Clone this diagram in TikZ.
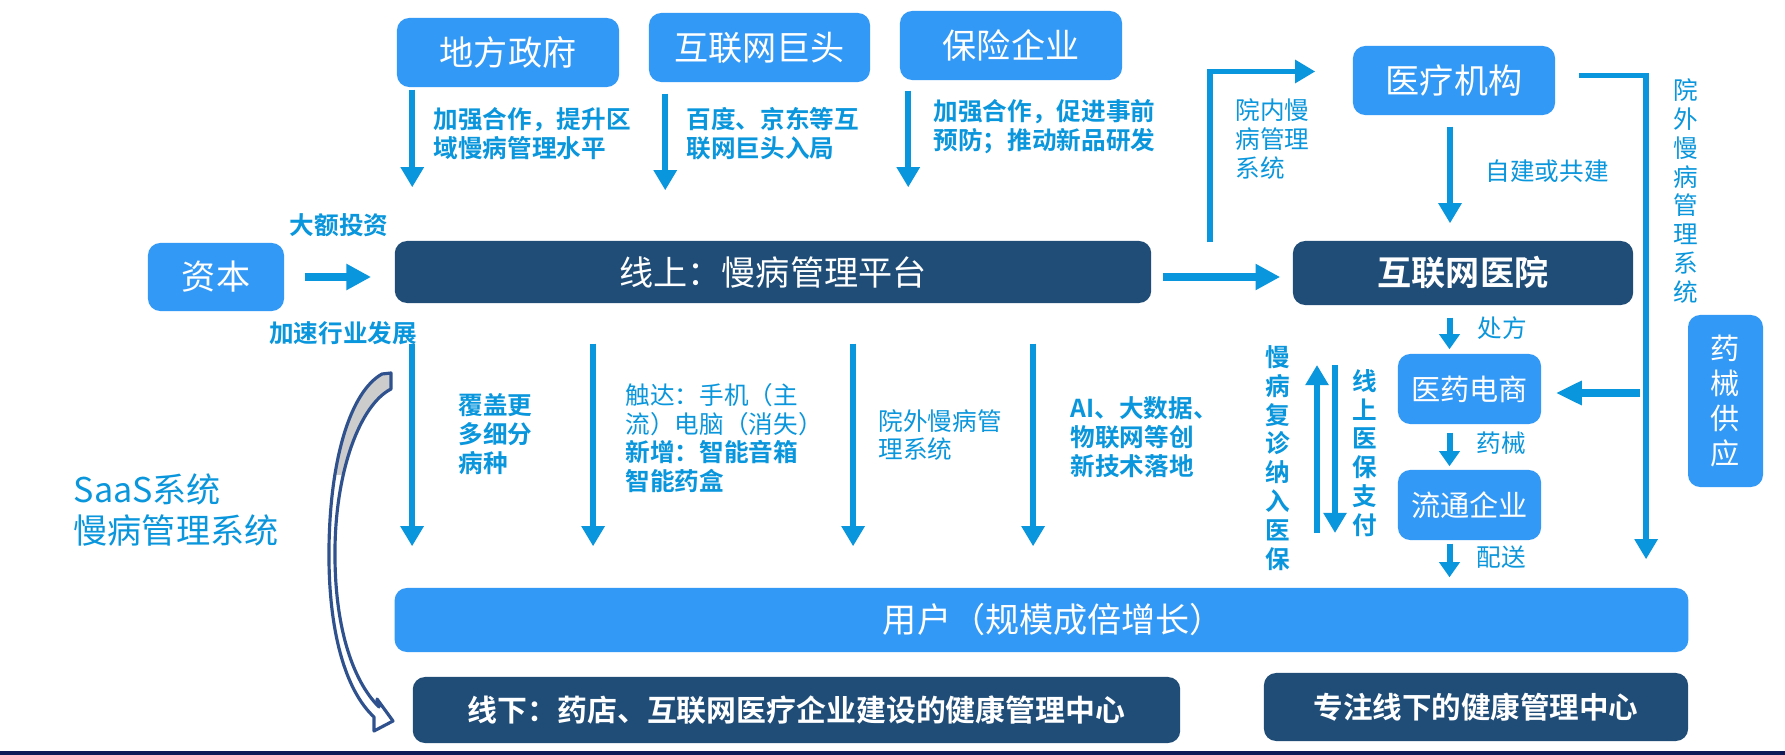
\documentclass[tikz,border=0pt]{standalone}
\usepackage{fontspec}
\setmainfont{Noto Sans CJK SC}[BoldFont={Noto Sans CJK SC Bold}]
\usetikzlibrary{arrows.meta,positioning,calc}
\definecolor{boxblue}{RGB}{51,153,247}
\definecolor{boxdark}{RGB}{31,77,120}
\definecolor{flowblue}{RGB}{10,150,220}
\definecolor{curvenavy}{RGB}{47,82,143}
\definecolor{barnavy}{RGB}{12,26,88}
\newcommand\saasbend{(382,374) -- (391,373) -- (391,389)
    .. controls (360,405) and (336,470) .. (335,548)
    .. controls (334,625) and (352,680) .. (379,707)
    -- (377,699) -- (393,721) -- (374,731) -- (374,717)
    .. controls (345,690) and (328,630) .. (329,548)
    .. controls (330,460) and (350,392) .. (382,374) -- cycle}

\begin{document}
\begin{tikzpicture}[x=0.01cm, y=-0.01cm,
    lightbox/.style={fill=boxblue, rounded corners=3.5pt, text=white, inner sep=0pt, font=\fontsize{9.7}{11}\selectfont},
    smallbox/.style={lightbox, font=\fontsize{8.3}{10}\selectfont},
    darkbox/.style={fill=boxdark, rounded corners=3.5pt, text=white, inner sep=0pt, font=\bfseries\fontsize{9.7}{11}\selectfont},
    note/.style={text=flowblue, inner sep=0pt, align=left, anchor=west, font=\fontsize{7}{8.2}\selectfont},
    boldnote/.style={note, font=\bfseries\fontsize{7}{8.2}\selectfont},
    vnote/.style={note, anchor=center, align=center},
    flow/.style={draw=flowblue, line width=1.7pt, -{Triangle[length=5.7pt,width=6.3pt]}},
    fatflow/.style={flow, line width=2.4pt, -{Triangle[length=7pt,width=7pt]}},
    shortflow/.style={flow, -{Triangle[length=4.3pt,width=5.7pt]}}
  ]
  \useasboundingbox (0,0) rectangle (1785,755);
  \fill[white] (0,0) rectangle (1785,755);

  % boxes
  \node[lightbox, minimum width=1.36cm, minimum height=0.68cm] (capital) at (216,277) {资本};
  \node[lightbox, minimum width=2.22cm, minimum height=0.69cm] (gov) at (508,52.5) {地方政府};
  \node[lightbox, minimum width=2.21cm, minimum height=0.69cm] (giant) at (759.5,47.5) {互联网巨头};
  \node[lightbox, minimum width=2.22cm, minimum height=0.69cm] (insurer) at (1011,45.5) {保险企业};
  \node[darkbox, font=\fontsize{9.7}{11}\selectfont, minimum width=7.56cm, minimum height=0.62cm] (platform) at (773,272) {线上：慢病管理平台};
  \node[lightbox, minimum width=2.02cm, minimum height=0.69cm] (medorg) at (1454,80.5) {医疗机构};
  \node[darkbox, minimum width=3.40cm, minimum height=0.64cm] (nethosp) at (1463,273) {互联网医院};
  \node[smallbox, minimum width=1.43cm, minimum height=0.70cm] (ecom) at (1469.5,389) {医药电商};
  \node[smallbox, minimum width=1.43cm, minimum height=0.70cm] (distrib) at (1469.5,505) {流通企业};
  \node[smallbox, align=center, minimum width=0.75cm, minimum height=1.72cm] (supply) at (1725.5,401) {药\\械\\供\\应};
  \node[lightbox, minimum width=12.93cm, minimum height=0.64cm] (user) at (1041.5,620) {\hspace{0.24cm}用户（规模成倍增长）};
  \node[darkbox, font=\bfseries\fontsize{8.5}{10}\selectfont, minimum width=7.67cm, minimum height=0.66cm] (offline) at (796.5,710) {线下：药店、互联网医疗企业建设的健康管理中心};
  \node[darkbox, font=\bfseries\fontsize{8.4}{10}\selectfont, minimum width=4.24cm, minimum height=0.68cm] (focus) at (1476,707) {专注线下的健康管理中心};

  % labels
  \node[boldnote] (govnote) at (433,134) {加强合作，提升区\\域慢病管理水平};
  \node[boldnote] (giantnote) at (686,134) {百度、京东等互\\联网巨头入局};
  \node[boldnote] (insurnote) at (933,127) {加强合作，促进事前\\预防；推动新品研发};
  \node[boldnote, anchor=center] (investnote) at (339,225) {大额投资};
  \node[boldnote, anchor=center] (speednote) at (343,333) {加速行业发展};
  \node[note] (innote) at (1235,139) {院内慢\\病管理\\系统};
  \node[note] (buildnote) at (1485,171) {自建或共建};
  \node[vnote] (outvnote) at (1686,191) {院\\外\\慢\\病\\管\\理\\系\\统};
  \node[note] (rxnote) at (1477,328) {处方};
  \node[note] (drugnote) at (1476,443) {药械};
  \node[note] (shipnote) at (1476,557) {配送};
  \node[boldnote] (covernote) at (458,434) {覆盖更\\多细分\\病种};
  \node[note] (reachnote) at (625,438) {触达：手机（主\\流）电脑（消失）\\\textbf{新增：智能音箱}\\\textbf{智能药盒}};
  \node[note] (outnote) at (878,435) {院外慢病管\\理系统};
  \node[boldnote] (technote) at (1070,437) {AI、大数据、\\物联网等创\\新技术落地};
  \node[vnote, font=\bfseries\fontsize{7}{8.2}\selectfont] (revisitnote) at (1278,458) {慢\\病\\复\\诊\\纳\\入\\医\\保};
  \node[vnote, font=\bfseries\fontsize{7}{8.2}\selectfont] (paynote) at (1365,453) {线\\上\\医\\保\\支\\付};
  \node[note, font=\fontsize{9.7}{11.4}\selectfont] (saasnote) at (73,510) {SaaS系统\\慢病管理系统};

  % arrows
  \draw[flow] ($(gov.south west)+(16,2)$) -- ($(gov.south west |- platform.north)+(16,-53)$);
  \draw[flow] ($(giant.south west)+(17,11)$) -- ($(giant.south west |- platform.north)+(17,-50)$);
  \draw[flow] ($(insurer.south west)+(9,10)$) -- ($(insurer.south west |- platform.north)+(9,-53)$);
  \draw[fatflow] ($(capital.east)+(20,0)$) -- ($(capital.east -| platform.west)+(-23,0)$);
  \draw[fatflow] ($(platform.east)+(11,5)$) -- ($(nethosp.west)+(-12,4)$);
  \draw[flow] ($(platform.north east)+(58,2)$) |- ($(medorg.west)+(-37,-9)$);
  \draw[flow] ($(medorg.south)+(-4,11)$) -- ($(medorg.south |- nethosp.north)+(-4,-17)$);
  \draw[flow] ($(medorg.east)+(23,-5)$) -| ($(user.north east)+(-43,-28)$);
  \draw[fatflow, line width=2.3pt, -{Triangle[length=7.4pt,width=6.5pt]}] ($(ecom.east)+(98,4)$) -- ($(ecom.east)+(14,4)$);
  \draw[shortflow] ($(ecom.north |- nethosp.south)+(-20,12)$) -- ($(ecom.north)+(-20,-4)$);
  \draw[shortflow] ($(ecom.south)+(-20,8)$) -- ($(distrib.north)+(-20,-3)$);
  \draw[shortflow] ($(distrib.south)+(-20,3)$) -- ($(distrib.south |- user.north)+(-20,-10)$);
  \foreach \dx in {18,199,459,639}
    \draw[flow] ($(platform.south west)+(\dx,40)$) -- ($(platform.south west |- user.north)+(\dx,-41)$);
  \coordinate (instop) at (1326,365);
  \coordinate (insbot) at (1326,533);
  \draw[flow] ($(insbot)+(-9,0)$) -- ($(instop)+(-9,0)$);
  \draw[flow] ($(instop)+(9,0)$) -- ($(insbot)+(9,0)$);

  % curved saas arrow
  \fill[white] \saasbend;
  \begin{scope}
    \clip \saasbend;
    \fill[black!20] (300,360) rectangle (400,475);
  \end{scope}
  \draw[curvenavy, line width=0.9pt, line join=round] \saasbend;

  \fill[barnavy] (0,751) rectangle (1785,755);
\end{tikzpicture}
\end{document}
